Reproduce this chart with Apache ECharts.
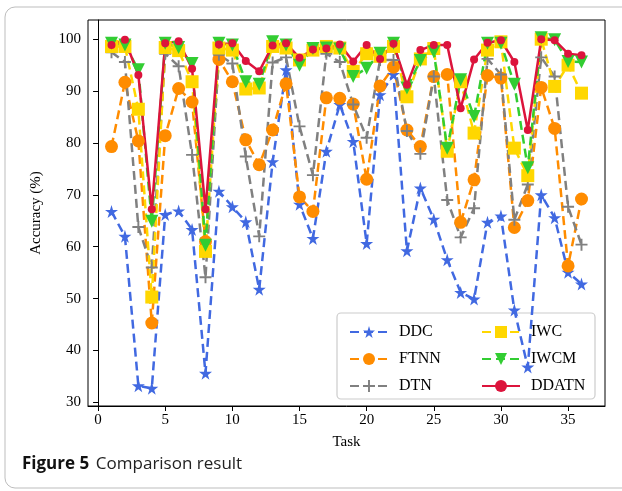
<!DOCTYPE html>
<html>
<head>
<meta charset="utf-8">
<script src="https://cdn.jsdelivr.net/npm/echarts@6/dist/echarts.min.js"></script>
<style>
  html, body { margin: 0; padding: 0; background: #fff; }
  #chart { width: 622px; height: 491px; }
</style>
</head>
<body>
<div id="chart"></div>
<script>
// task index on x
const tasks = [1,2,3,4,5,6,7,8,9,10,11,12,13,14,15,16,17,18,19,20,21,22,23,24,25,26,27,28,29,30,31,32,33,34,35,36];

// accuracy (%) per method
const ddc   = [66.8,62.0,33.2,32.7,66.2,66.9,63.3,35.6,70.7,67.7,64.8,51.8,76.4,94.1,68.2,61.6,78.4,87.4,80.3,60.6,89.3,93.2,59.2,71.3,65.3,57.5,51.2,49.9,64.7,65.9,47.8,36.8,70.0,65.6,55.1,52.8];
const ftnn  = [79.3,91.7,80.4,45.3,81.4,90.5,87.9,61.0,96.1,91.8,80.6,75.8,82.5,91.4,69.6,66.8,88.7,88.6,87.5,73.0,91.0,94.6,82.5,79.3,92.8,93.2,64.7,72.9,93.0,92.5,63.7,68.9,90.7,82.8,56.3,69.2];
const dtn   = [97.5,95.6,63.8,56.0,97.2,94.8,77.7,54.1,97.0,95.3,77.4,62.0,95.5,96.5,83.2,73.8,97.2,95.6,87.4,81.0,96.0,96.0,82.3,77.9,92.8,69.0,61.8,67.4,96.2,93.2,65.2,72.0,96.5,92.8,67.7,60.4];
const iwc   = [98.6,98.6,86.5,50.3,98.4,97.8,91.8,59.1,98.3,97.9,90.4,90.6,98.6,98.3,96.0,97.9,98.6,98.3,93.8,97.2,96.7,98.6,88.9,96.2,98.2,78.4,91.8,81.9,97.9,99.5,79.0,73.7,100.0,90.9,95.0,89.6];
const iwcm  = [99.2,98.9,94.1,64.9,99.2,98.4,95.3,60.3,99.2,98.9,91.8,91.3,99.5,98.9,95.0,98.2,98.3,98.1,92.8,94.4,97.3,99.2,90.6,95.9,97.6,79.0,92.2,85.1,99.2,99.2,91.3,75.2,100.3,99.9,95.7,95.6];
const ddatn = [98.9,99.9,93.1,67.2,99.2,99.6,94.3,67.2,99.0,99.2,95.8,93.8,98.8,99.2,96.4,98.0,98.2,99.0,95.7,98.9,96.2,99.1,91.2,97.9,98.9,98.9,86.7,96.1,99.3,99.8,95.6,82.5,100.0,99.8,97.2,96.9];

const xTicks = [0,5,10,15,20,25,30,35];
const yTicks = [30,40,50,60,70,80,90,100];

const STAR = 'path://M50,0 L61,35 L98,35 L68,57 L79,91 L50,70 L21,91 L32,57 L2,35 L39,35 Z';
const PLUS = 'path://M42,0 H58 V42 H100 V58 H58 V100 H42 V58 H0 V42 H42 Z';
const serif = '"Liberation Serif", "DejaVu Serif", serif';
const dash = [9, 5];

const chart = echarts.init(document.getElementById('chart'));

function pts(arr) {
  return tasks.map((t, i) => [t, arr[i]]);
}

function dashed(name, arr, color, symbol, size, extra) {
  return Object.assign({
    name: name,
    type: 'line',
    data: pts(arr),
    symbol: symbol,
    symbolSize: size,
    showAllSymbol: true,
    itemStyle: { color: color, opacity: 1 },
    lineStyle: { color: color, width: 2.5, type: dash },
    emphasis: { disabled: true },
    animation: false
  }, extra || {});
}

const option = {
  backgroundColor: '#fff',
  grid: {
    left: 88, right: 17, top: 20, bottom: 85,
    show: true, borderColor: '#000', borderWidth: 1
  },
  xAxis: {
    type: 'value',
    min: -0.75, max: 37.75,
    name: 'Task',
    nameLocation: 'middle',
    nameGap: 29,
    nameTextStyle: { fontFamily: serif, fontSize: 15, color: '#000' },
    axisLine: { show: true, lineStyle: { color: '#000' } },
    axisTick: { show: true, length: 5, lineStyle: { color: '#000' }, customValues: xTicks },
    axisLabel: { fontFamily: serif, fontSize: 15, color: '#000', margin: 7, customValues: xTicks },
    splitLine: { show: false }
  },
  yAxis: {
    type: 'value',
    min: 29.3, max: 103.7,
    name: 'Accuracy (%)',
    nameLocation: 'middle',
    nameGap: 44,
    nameTextStyle: { fontFamily: serif, fontSize: 15, color: '#000' },
    axisLine: { show: true, lineStyle: { color: '#000' } },
    axisTick: { show: true, length: 5, lineStyle: { color: '#000' }, customValues: yTicks },
    axisLabel: { fontFamily: serif, fontSize: 15, color: '#000', margin: 7, customValues: yTicks },
    splitLine: { show: false }
  },
  legend: [
    {
      data: ['DDC', 'FTNN', 'DTN'],
      orient: 'vertical',
      left: 344, top: 319,
      itemWidth: 38, itemHeight: 15, itemGap: 11,
      textStyle: { fontFamily: serif, fontSize: 16, color: '#000', padding: [0, 0, 0, 6] },
      z: 5
    },
    {
      data: ['IWC', 'IWCM', 'DDATN'],
      orient: 'vertical',
      left: 476, top: 319,
      itemWidth: 38, itemHeight: 15, itemGap: 11,
      textStyle: { fontFamily: serif, fontSize: 16, color: '#000', padding: [0, 0, 0, 6] },
      z: 5
    }
  ],
  graphic: [
    {
      type: 'rect', z: 3,
      shape: { x: 337, y: 313, width: 258, height: 86, r: 4 },
      style: { fill: 'rgba(255,255,255,0.8)', stroke: '#cccccc', lineWidth: 1.2 }
    },
    {
      type: 'rect', z: 0, silent: true,
      shape: { x: 5, y: 7, width: 640, height: 481, r: 10 },
      style: { fill: 'none', stroke: '#bdbdbd', lineWidth: 1 }
    },
    {
      type: 'text', left: 22, top: 456,
      style: {
        text: '{b|Figure 5}  {n|Comparison result}',
        rich: {
          b: { fontFamily: '"Open Sans", "Noto Sans", sans-serif', fontWeight: 'bold', fontSize: 17, fill: '#111' },
          n: { fontFamily: '"Open Sans", "Noto Sans", sans-serif', fontSize: 17, fill: '#222' }
        }
      }
    }
  ],
  series: [
    dashed('DDC', ddc, '#4169e1', STAR, 13),
    dashed('FTNN', ftnn, '#ff8c00', 'circle', 13),
    dashed('DTN', dtn, '#808080', PLUS, 12),
    dashed('IWC', iwc, '#ffd700', 'rect', 13),
    dashed('IWCM', iwcm, '#32cd32', 'triangle', 13, { symbolRotate: 180 }),
    {
      name: 'DDATN',
      type: 'line',
      data: pts(ddatn),
      symbol: 'circle',
      symbolSize: 8,
      showAllSymbol: true,
      itemStyle: { color: '#dc143c' },
      lineStyle: { color: '#dc143c', width: 2.5 },
      emphasis: { disabled: true },
      animation: false
    }
  ]
};

chart.setOption(option);
</script>
</body>
</html>
